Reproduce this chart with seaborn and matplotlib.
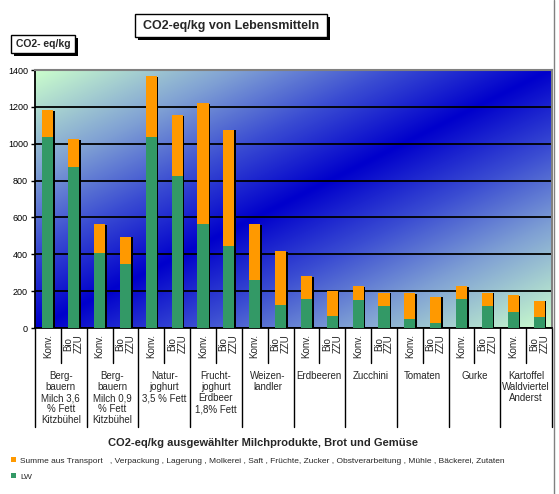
import numpy as np
import pandas as pd
import matplotlib
matplotlib.use("Agg")
import matplotlib.pyplot as plt
import seaborn as sns
import matplotlib.patheffects as pe
from matplotlib.colors import LinearSegmentedColormap
from matplotlib.lines import Line2D
from matplotlib.patches import Rectangle, Patch
from matplotlib.transforms import blended_transform_factory

# ---------------- data ----------------
groups = [
    "Berg-\nbauern\nMilch 3,6\n% Fett\nKitzbühel",
    "Berg-\nbauern\nMilch 0,9\n% Fett\nKitzbühel",
    "Natur-\njoghurt\n3,5 % Fett",
    "Frucht-\njoghurt\nErdbeer\n1,8% Fett",
    "Weizen-\nlandler",
    "Erdbeeren",
    "Zucchini",
    "Tomaten",
    "Gurke",
    "Kartoffel\nWaldviertel\nAnderst",
]
variants = ["Konv.", "Bio\nZZU"]
lw_values = [1035, 875, 409, 345, 1035, 827, 564, 447, 260, 123,
             156, 65, 152, 119, 49, 29, 159, 119, 87, 60]
other_values = [148, 149, 154, 151, 332, 329, 655, 629, 303, 295,
                126, 136, 76, 73, 139, 141, 69, 73, 90, 88]
yticks = [0, 200, 400, 600, 800, 1000, 1200, 1400]
title = "CO2-eq/kg von Lebensmitteln"
ylabel = "CO2- eq/kg"
xlabel = "CO2-eq/kg ausgewählter Milchprodukte, Brot und Gemüse"
legend_other = ("Summe aus Transport   , Verpackung , Lagerung , Molkerei , Saft , "
                "Früchte, Zucker , Obstverarbeitung , Mühle , Bäckerei, Zutaten")
legend_lw = "LW"

ORANGE = "#ff9900"
GREEN = "#339966"

sns.set_style("white")
plt.rcParams['font.family'] = ['Liberation Sans', 'DejaVu Sans']

rows = []
for gi, g in enumerate(groups):
    for vi, v in enumerate(variants):
        i = gi * 2 + vi
        rows.append(dict(bar=f"{gi}-{vi}", group=g, variant=v,
                         lw=lw_values[i], other=other_values[i]))
df = pd.DataFrame(rows)
df["total"] = df["lw"] + df["other"]

W, H = 559, 494
fig = plt.figure(figsize=(W / 100, H / 100), dpi=100)
ax = fig.add_axes([35 / W, 1 - 328 / H, (552 - 35) / W, 258 / H])

# diagonal gradient background
xx, yy = np.meshgrid(np.linspace(0, 1, 400), np.linspace(0, 1, 400))
d = np.abs(xx - yy)
cmap = LinearSegmentedColormap.from_list(
    "bg", [(0.0, "#0000cc"), (0.3, "#3a4cd2"), (0.6, "#7fa0d4"), (1.0, "#ccffcc")])
ax.imshow(d, cmap=cmap, extent=[0, 1, 0, 1], transform=ax.transAxes,
          origin="lower", aspect="auto", zorder=0, interpolation="bilinear")

sns.barplot(data=df, x="bar", y="total", color=ORANGE, saturation=1, width=0.43,
            errorbar=None, ax=ax, zorder=3, linewidth=0, edgecolor="none")
sns.barplot(data=df, x="bar", y="lw", color=GREEN, saturation=1, width=0.43,
            errorbar=None, ax=ax, zorder=4, linewidth=0, edgecolor="none")

shadow = [pe.SimplePatchShadow(offset=(1.1, -0.4), shadow_rgbFace="black", alpha=1.0),
          pe.Normal()]
for p in ax.patches:
    p.set_path_effects(shadow)

xs = list(ax.get_xticks())
ax.set_xlim(-0.5, len(xs) - 0.5)
ax.set_ylim(0, 1400)
ax.set_yticks(yticks)
ax.set_yticklabels([str(v) for v in yticks], fontsize=6.5)
ax.yaxis.grid(True, color="black", lw=1.3)
ax.xaxis.grid(False)
ax.set_axisbelow(True)
ax.tick_params(axis="x", length=0, labelbottom=False)
ax.tick_params(axis="y", left=True, length=3, width=1, direction="out", pad=2, colors="black")
ax.set_xlabel("")
ax.set_ylabel("")
for s in ["left", "bottom"]:
    ax.spines[s].set_color("black")
    ax.spines[s].set_linewidth(1.3)
for s in ["top", "right"]:
    ax.spines[s].set_color("#808080")
    ax.spines[s].set_linewidth(1.5)

bt = blended_transform_factory(ax.transData, ax.transAxes)
for i, x in enumerate(xs):
    ax.text(x, -0.024, variants[i % 2], transform=bt, rotation=90, ha="center",
            va="top", fontsize=7, linespacing=1.05)
for gi, g in enumerate(groups):
    gx = (xs[2 * gi] + xs[2 * gi + 1]) / 2
    ax.text(gx, -0.168, g, transform=bt, ha="center", va="top", fontsize=7,
            linespacing=1.12)
    sx = (xs[2 * gi] + xs[2 * gi + 1]) / 2
    ax.plot([sx, sx], [0, -0.136], transform=bt, color="black", lw=1, clip_on=False)
    lx = xs[2 * gi] - 0.5
    ax.plot([lx, lx], [0, -0.384], transform=bt, color="black", lw=1, clip_on=False)
rx = xs[-1] + 0.5
ax.plot([rx, rx], [0, -0.384], transform=bt, color="black", lw=1, clip_on=False)

# title box
box_shadow = [pe.SimplePatchShadow(offset=(2, -2), shadow_rgbFace="black", alpha=1.0), pe.Normal()]
r1 = Rectangle((135 / W, 1 - 37 / H), 192 / W, 23 / H, transform=fig.transFigure,
               fc="white", ec="black", lw=1)
r1.set_path_effects(box_shadow)
fig.add_artist(r1)
fig.text(231 / W, 1 - 25.5 / H, title, ha="center", va="center", fontsize=9,
         fontweight="bold")

r2 = Rectangle((11 / W, 1 - 53 / H), 64 / W, 18 / H, transform=fig.transFigure,
               fc="white", ec="black", lw=1)
r2.set_path_effects(box_shadow)
fig.add_artist(r2)
fig.text(43 / W, 1 - 44 / H, ylabel, ha="center", va="center", fontsize=7.5,
         fontweight="bold")

fig.text(263 / W, 1 - 443 / H, xlabel, ha="center", va="center", fontsize=8,
         fontweight="bold")

handles = [Patch(facecolor=ORANGE, edgecolor="none"), Patch(facecolor=GREEN, edgecolor="none")]
fig.legend(handles, [legend_other, legend_lw], loc="upper left",
           bbox_to_anchor=(11 / W, 1 - 457 / H), frameon=False, fontsize=6,
           handlelength=0.6, handleheight=0.6, handletextpad=0.5,
           labelspacing=1.0, borderaxespad=0, borderpad=0)

fig.add_artist(Line2D([554 / W, 554 / W], [0, 1], transform=fig.transFigure,
                      color="#808080", lw=1))

fig.savefig("out.png", dpi=100)
